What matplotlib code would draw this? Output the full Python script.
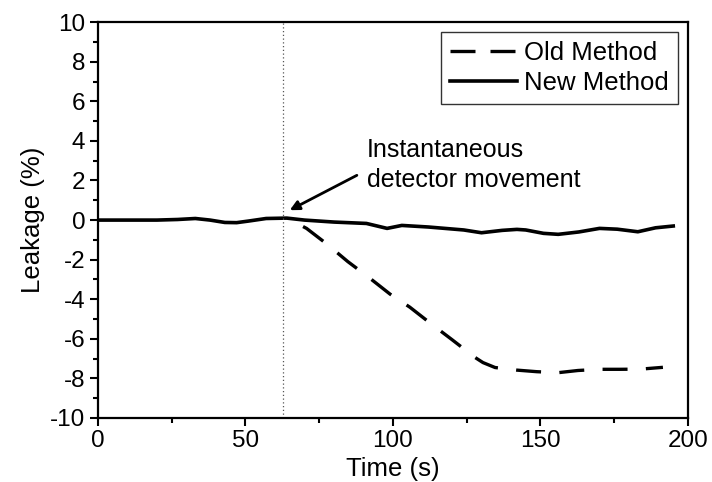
import numpy as np
import matplotlib
matplotlib.use("Agg")
import matplotlib.pyplot as plt
from matplotlib.ticker import MultipleLocator

plt.rcParams["font.family"] = ["Liberation Sans", "DejaVu Sans"]
plt.rcParams["axes.unicode_minus"] = False

# Leakage over time
t_new = [0, 20, 27, 33, 38, 43, 47, 51, 57, 64, 70, 80, 91, 98, 103, 112,
         124, 130, 137, 142, 145, 151, 156, 163, 170, 176, 183, 189, 195]
leak_new = [0.0, 0.0, 0.03, 0.08, 0.0, -0.12, -0.13, -0.05, 0.08, 0.1, 0.0,
            -0.1, -0.17, -0.42, -0.27, -0.35, -0.5, -0.64, -0.52, -0.47,
            -0.5, -0.67, -0.72, -0.6, -0.42, -0.46, -0.59, -0.39, -0.3]

t_old = [64, 70.7, 77.5, 84.7, 91.5, 99, 105.7, 113, 119.9, 127.8, 130.5,
         134.6, 141.9, 148.7, 156, 162.7, 170, 177, 184, 191.5]
leak_old = [0.1, -0.42, -1.2, -2.1, -2.86, -3.74, -4.4, -5.25, -6.03, -6.94,
            -7.2, -7.45, -7.58, -7.66, -7.71, -7.6, -7.54, -7.54, -7.53, -7.44]

t_move = 62.7

fig = plt.figure(figsize=(7.12, 4.82), dpi=100)
ax = fig.add_axes([0.1376, 0.1328, 0.8287, 0.8212])

ax.plot(t_old, leak_old, color="black", lw=2.4, ls=(7.5, (7.5, 5.5)),
        label="Old Method")
ax.plot(t_new, leak_new, color="black", lw=2.6, label="New Method")
ax.axvline(t_move, color="#555555", lw=0.9, ls=(0, (1, 2)))

ax.annotate("Instantaneous\ndetector movement", xy=(65, 0.5),
            xytext=(91.2, 2.8), fontsize=18, ha="left", va="center",
            linespacing=1.3,
            arrowprops=dict(arrowstyle="-|>", color="black", lw=2,
                            mutation_scale=14, shrinkA=6, shrinkB=0,
                            relpos=(0, 0.4)))

ax.set_xlim(0, 200)
ax.set_ylim(-10, 10)
ax.xaxis.set_major_locator(MultipleLocator(50))
ax.xaxis.set_minor_locator(MultipleLocator(25))
ax.yaxis.set_major_locator(MultipleLocator(2))
ax.yaxis.set_minor_locator(MultipleLocator(1))
ax.tick_params(which="both", direction="out", width=1.5, labelsize=17.5,
               top=False, right=False, pad=3)
ax.tick_params(which="major", length=6)
ax.tick_params(which="minor", length=3.5)
for s in ax.spines.values():
    s.set_linewidth(1.6)

ax.set_xlabel("Time (s)", fontsize=18.5, labelpad=3)
ax.set_ylabel("Leakage (%)", fontsize=18.5, labelpad=4)

leg = ax.legend(loc="upper right", fontsize=18.5, frameon=True,
                fancybox=False, edgecolor="black", handlelength=2.6,
                handletextpad=0.28, borderpad=0.35, labelspacing=0.2,
                borderaxespad=0.4)
leg.get_frame().set_linewidth(1.0)
# legend sample starts with a dash, like the original
leg.get_lines()[0].set_linestyle((0, (7.5, 4.5)))

plt.savefig("out.png", dpi=100)
